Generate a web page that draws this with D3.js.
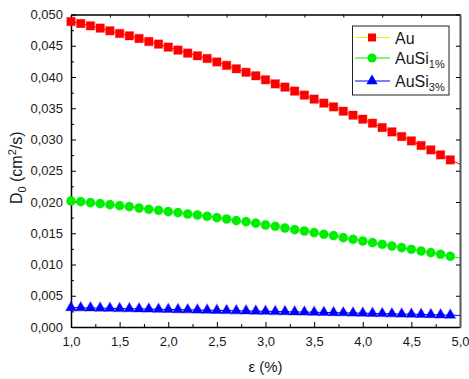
<!DOCTYPE html>
<html>
<head>
<meta charset="utf-8">
<script src="https://cdn.jsdelivr.net/npm/d3@7"></script>
<style>
  body { margin: 0; background: #fff; }
  svg text { font-family: "Liberation Sans", Arial, sans-serif; fill: #1a1a1a; }
</style>
</head>
<body>
<div id="grafiek"></div>
<script>
// strain (%) — last value only carries the connecting line to the frame
const rek = [1.0, 1.1, 1.2, 1.3, 1.4, 1.5, 1.6, 1.7, 1.8, 1.9,
  2.0, 2.1, 2.2, 2.3, 2.4, 2.5, 2.6, 2.7, 2.8, 2.9,
  3.0, 3.1, 3.2, 3.3, 3.4, 3.5, 3.6, 3.7, 3.8, 3.9,
  4.0, 4.1, 4.2, 4.3, 4.4, 4.5, 4.6, 4.7, 4.8, 4.9, 5.0];

const au = [0.04888, 0.04856, 0.04819, 0.04782, 0.04739, 0.04696, 0.04659, 0.04616, 0.04568, 0.04526,
  0.04478, 0.04430, 0.04382, 0.04339, 0.04296, 0.04241, 0.04186, 0.04131, 0.04075, 0.04019,
  0.03955, 0.03890, 0.03838, 0.03774, 0.03710, 0.03646, 0.03582, 0.03522, 0.03453, 0.03389,
  0.03325, 0.03261, 0.03191, 0.03122, 0.03047, 0.02978, 0.02903, 0.02834, 0.02754, 0.02674, 0.02605];

const ausi1 = [0.02017, 0.02006, 0.01990, 0.01974, 0.01958, 0.01942, 0.01926, 0.01905, 0.01884, 0.01868,
  0.01846, 0.01830, 0.01809, 0.01793, 0.01772, 0.01750, 0.01729, 0.01702, 0.01686, 0.01662,
  0.01633, 0.01612, 0.01585, 0.01558, 0.01537, 0.01510, 0.01484, 0.01462, 0.01430, 0.01404,
  0.01377, 0.01350, 0.01324, 0.01297, 0.01270, 0.01244, 0.01217, 0.01190, 0.01164, 0.01132, 0.01100];

const ausi3 = [0.00310, 0.00308, 0.00305, 0.00302, 0.00299, 0.00296, 0.00293, 0.00290, 0.00287, 0.00284,
  0.00281, 0.00278, 0.00275, 0.00272, 0.00269, 0.00266, 0.00263, 0.00260, 0.00257, 0.00254,
  0.00251, 0.00248, 0.00245, 0.00242, 0.00239, 0.00236, 0.00233, 0.00230, 0.00227, 0.00224,
  0.00221, 0.00218, 0.00215, 0.00211, 0.00208, 0.00205, 0.00201, 0.00197, 0.00193, 0.00189, 0.00185];

const series = [
  { naam: "Au", sub: "", waarden: au, kleur: "#ff0000", legendaLijn: "#f0f000", symbool: d3.symbolSquare },
  { naam: "AuSi", sub: "1%", waarden: ausi1, kleur: "#00ee00", legendaLijn: "#00ee00", symbool: d3.symbolCircle },
  { naam: "AuSi", sub: "3%", waarden: ausi3, kleur: "#0000ff", legendaLijn: "#0000ff", symbool: d3.symbolTriangle }
];

const xTicks = [1.0, 1.5, 2.0, 2.5, 3.0, 3.5, 4.0, 4.5, 5.0];
const yTicks = [0, 0.005, 0.010, 0.015, 0.020, 0.025, 0.030, 0.035, 0.040, 0.045, 0.050];

const width = 469, height = 379;
const links = 71, rechts = 460, boven = 14.5, onder = 327;

const x = d3.scaleLinear().domain([1, 5]).range([links, rechts]);
const y = d3.scaleLinear().domain([0, 0.05]).range([onder, boven]);

const svg = d3.select("#grafiek").append("svg")
  .attr("width", width).attr("height", height);

const komma = f => v => d3.format(f)(v).replace(".", ",");

// minor ticks
const xMinor = d3.range(1.25, 5, 0.5);
const yMinor = d3.range(0.0025, 0.05, 0.005);

svg.append("g").attr("transform", `translate(0,${onder})`)
  .call(d3.axisBottom(x).tickValues(xMinor).tickSize(-3).tickFormat(""))
  .call(g => g.select(".domain").remove());
svg.append("g").attr("transform", `translate(${links},0)`)
  .call(d3.axisLeft(y).tickValues(yMinor).tickSize(-3).tickFormat(""))
  .call(g => g.select(".domain").remove());

// X-AS
svg.append("g")
  .attr("transform", `translate(0,${onder})`)
  .call(d3.axisBottom(x).tickValues(xTicks).tickSize(-5).tickPadding(10).tickSizeOuter(0).tickFormat(komma(".1f")))
  .call(g => g.selectAll("text").attr("font-size", 13))
  .call(g => g.select(".domain").attr("stroke-width", 1.5));

// Y-AS
svg.append("g")
  .attr("transform", `translate(${links},0)`)
  .call(d3.axisLeft(y).tickValues(yTicks).tickSize(-5).tickPadding(8).tickSizeOuter(0).tickFormat(komma(".3f")))
  .call(g => g.selectAll("text").attr("font-size", 13))
  .call(g => g.select(".domain").attr("stroke-width", 1.5));

// top axis (10 divisions, no labels)
const xTop = d3.scaleLinear().domain([0, 10]).range([links, rechts]);
svg.append("g")
  .attr("transform", `translate(0,${boven})`)
  .call(d3.axisTop(xTop).ticks(10).tickSize(-3).tickSizeOuter(0).tickFormat(""))
  .call(g => g.select(".domain").attr("stroke-width", 1.5));

// right axis
svg.append("g")
  .attr("transform", `translate(${rechts},0)`)
  .call(d3.axisRight(y).tickValues(yTicks).tickSize(-4).tickSizeOuter(0).tickFormat(""))
  .call(g => g.select(".domain").attr("stroke", "#555").attr("stroke-width", 2));

// lines + markers
const lijn = d3.line().x((d, i) => x(rek[i])).y(d => y(d));

series.forEach(s => {
  svg.append("path")
    .datum(s.waarden)
    .attr("fill", "none")
    .attr("stroke", s.kleur)
    .attr("stroke-width", 1)
    .attr("d", lijn);

  const grootte = s.symbool === d3.symbolTriangle ? 48 : (s.symbool === d3.symbolSquare ? 70 : 64);
  svg.append("g").selectAll("path")
    .data(s.waarden.filter((d, i) => rek[i] < 5))
    .join("path")
    .attr("transform", (d, i) => `translate(${x(rek[i])},${y(d)})`)
    .attr("d", d3.symbol(s.symbool, grootte))
    .attr("fill", s.kleur)
    .attr("stroke", s.kleur)
    .attr("stroke-opacity", 0.35)
    .attr("stroke-width", 1.2);
});

// axis titles
svg.append("text")
  .attr("x", (links + rechts) / 2).attr("y", 372)
  .attr("text-anchor", "middle").attr("font-size", 15)
  .text("ε (%)");

const yTitel = svg.append("text")
  .attr("transform", `translate(22,${(boven + onder) / 2 - 3}) rotate(-90)`)
  .attr("text-anchor", "middle").attr("font-size", 16);
yTitel.append("tspan").text("D");
yTitel.append("tspan").attr("font-size", 11).attr("dy", 4).text("0");
yTitel.append("tspan").attr("dy", -4).text(" (cm");
yTitel.append("tspan").attr("font-size", 11).attr("dy", -6).text("2");
yTitel.append("tspan").attr("dy", 6).text("/s)");

// legend
const legenda = svg.append("g");
legenda.append("rect")
  .attr("x", 352.5).attr("y", 26).attr("width", 96.5).attr("height", 69)
  .attr("fill", "#fff").attr("stroke", "#222").attr("stroke-width", 1);

const legendaY = [37.5, 58, 81];
series.forEach((s, i) => {
  const g = legenda.append("g").attr("transform", `translate(0,${legendaY[i]})`);
  g.append("line").attr("x1", 355).attr("x2", 390).attr("y1", 0).attr("y2", 0)
    .attr("stroke", s.legendaLijn).attr("stroke-width", 1);
  g.append("path").attr("transform", "translate(372,0)")
    .attr("d", d3.symbol(s.symbool, s.symbool === d3.symbolTriangle ? 56 : 64))
    .attr("fill", s.kleur);
  const t = g.append("text").attr("x", 395).attr("y", 6).attr("font-size", 16);
  t.append("tspan").text(s.naam);
  if (s.sub) t.append("tspan").attr("font-size", 11).attr("dy", 4).text(s.sub);
});
</script>
</body>
</html>
